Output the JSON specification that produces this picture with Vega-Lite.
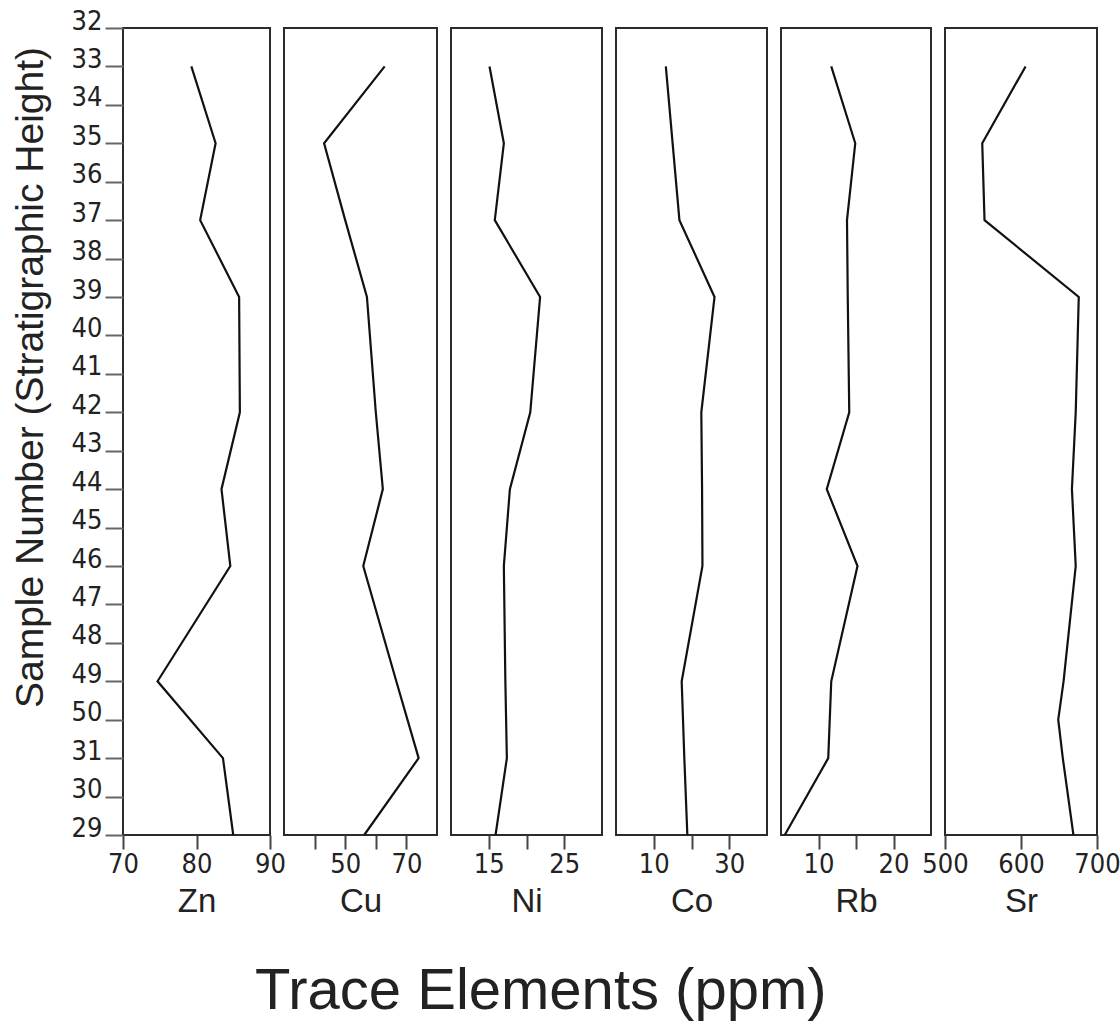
{
  "$schema": "https://vega.github.io/schema/vega-lite/v6.json",
  "background": "white",
  "padding": {"left": 10, "top": 6, "right": 10, "bottom": 6},
  "bounds": "flush",
  "data": {
    "values": [
      {"sample": 33, "Zn": 79.3, "Cu": 62.9, "Ni": 15.1, "Co": 13.2, "Rb": 11.7, "Sr": 606},
      {"sample": 35, "Zn": 82.6, "Cu": 43.1, "Ni": 17.0, "Co": 15.0, "Rb": 14.9, "Sr": 549},
      {"sample": 37, "Zn": 80.5, "Cu": 50.0, "Ni": 15.8, "Co": 16.8, "Rb": 13.8, "Sr": 552},
      {"sample": 39, "Zn": 85.8, "Cu": 57.1, "Ni": 21.8, "Co": 26.1, "Rb": 13.9, "Sr": 676},
      {"sample": 42, "Zn": 85.9, "Cu": 60.0, "Ni": 20.5, "Co": 22.6, "Rb": 14.1, "Sr": 672},
      {"sample": 44, "Zn": 83.4, "Cu": 62.3, "Ni": 17.8, "Co": 22.8, "Rb": 11.1, "Sr": 667},
      {"sample": 46, "Zn": 84.6, "Cu": 55.9, "Ni": 17.0, "Co": 22.9, "Rb": 15.2, "Sr": 672},
      {"sample": 49, "Zn": 74.7, "Cu": 66.7, "Ni": 17.2, "Co": 17.4, "Rb": 11.7, "Sr": 656},
      {"sample": 50, "Zn": null, "Cu": null, "Ni": null, "Co": null, "Rb": null, "Sr": 649},
      {"sample": 31, "Zn": 83.6, "Cu": 74.0, "Ni": 17.4, "Co": 18.1, "Rb": 11.3, "Sr": 655},
      {"sample": 29, "Zn": 85.0, "Cu": 56.2, "Ni": 15.9, "Co": 18.9, "Rb": 5.5, "Sr": 669}
    ]
  },
  "title": {
    "text": "Trace Elements (ppm)",
    "orient": "bottom",
    "anchor": "start",
    "frame": "group",
    "dx": 132,
    "offset": 44,
    "font": "Liberation Sans",
    "fontSize": 58,
    "fontWeight": "normal",
    "color": "#222"
  },
  "spacing": 14,
  "hconcat": [
    {
      "width": 147, "height": 807,
      "transform": [{"filter": {"field": "Zn", "valid": true}}],
      "mark": {"type": "line", "invalid": "filter"},
      "encoding": {
        "y": {
          "field": "sample", "type": "ordinal",
          "scale": {"type": "point", "padding": 0, "domain": [32,33,34,35,36,37,38,39,40,41,42,43,44,45,46,47,48,49,50,31,30,29]},
          "axis": {
            "title": "Sample Number (Stratigraphic Height)",
            "titleFontSize": 39, "titleX": -81, "titleY": 349, "titleAngle": -90,
            "titleAlign": "center", "titleBaseline": "alphabetic",
            "tickSize": 18, "labelPadding": 3, "labelBaseline": "alphabetic", "labelAlign": "right",
            "labelOffset": 1, "tickColor": "#666"
          }
        },
        "x": {
          "field": "Zn", "type": "quantitative",
          "scale": {"domain": [70, 90], "nice": false, "zero": false},
          "axis": {"values": [70, 80, 90], "title": "Zn"}
        },
        "order": {"value": null}
      }
    },
    {
      "width": 153, "height": 807,
      "transform": [{"filter": {"field": "Cu", "valid": true}}],
      "mark": {"type": "line", "invalid": "filter"},
      "encoding": {
        "y": {"field": "sample", "type": "ordinal", "scale": {"type": "point", "padding": 0, "domain": [32,33,34,35,36,37,38,39,40,41,42,43,44,45,46,47,48,49,50,31,30,29]}, "axis": null},
        "x": {
          "field": "Cu", "type": "quantitative",
          "scale": {"domain": [30, 80], "nice": false, "zero": false},
          "axis": {"values": [40, 50, 60, 70], "labelExpr": "datum.value == 50 || datum.value == 70 ? datum.label : ''", "title": "Cu"}
        },
        "order": {"value": null}
      }
    },
    {
      "width": 151, "height": 807,
      "transform": [{"filter": {"field": "Ni", "valid": true}}],
      "mark": {"type": "line", "invalid": "filter"},
      "encoding": {
        "y": {"field": "sample", "type": "ordinal", "scale": {"type": "point", "padding": 0, "domain": [32,33,34,35,36,37,38,39,40,41,42,43,44,45,46,47,48,49,50,31,30,29]}, "axis": null},
        "x": {
          "field": "Ni", "type": "quantitative",
          "scale": {"domain": [10, 30], "nice": false, "zero": false},
          "axis": {"values": [15, 20, 25], "labelExpr": "datum.value == 20 ? '' : datum.label", "title": "Ni"}
        },
        "order": {"value": null}
      }
    },
    {
      "width": 151, "height": 807,
      "transform": [{"filter": {"field": "Co", "valid": true}}],
      "mark": {"type": "line", "invalid": "filter"},
      "encoding": {
        "y": {"field": "sample", "type": "ordinal", "scale": {"type": "point", "padding": 0, "domain": [32,33,34,35,36,37,38,39,40,41,42,43,44,45,46,47,48,49,50,31,30,29]}, "axis": null},
        "x": {
          "field": "Co", "type": "quantitative",
          "scale": {"domain": [0, 40], "nice": false, "zero": false},
          "axis": {"values": [10, 20, 30], "labelExpr": "datum.value == 20 ? '' : datum.label", "title": "Co"}
        },
        "order": {"value": null}
      }
    },
    {
      "width": 150, "height": 807,
      "transform": [{"filter": {"field": "Rb", "valid": true}}],
      "mark": {"type": "line", "invalid": "filter"},
      "encoding": {
        "y": {"field": "sample", "type": "ordinal", "scale": {"type": "point", "padding": 0, "domain": [32,33,34,35,36,37,38,39,40,41,42,43,44,45,46,47,48,49,50,31,30,29]}, "axis": null},
        "x": {
          "field": "Rb", "type": "quantitative",
          "scale": {"domain": [5, 25], "nice": false, "zero": false},
          "axis": {"values": [10, 15, 20], "labelExpr": "datum.value == 15 ? '' : datum.label", "title": "Rb"}
        },
        "order": {"value": null}
      }
    },
    {
      "width": 152, "height": 807,
      "transform": [{"filter": {"field": "Sr", "valid": true}}],
      "mark": {"type": "line", "invalid": "filter"},
      "encoding": {
        "y": {"field": "sample", "type": "ordinal", "scale": {"type": "point", "padding": 0, "domain": [32,33,34,35,36,37,38,39,40,41,42,43,44,45,46,47,48,49,50,31,30,29]}, "axis": null},
        "x": {
          "field": "Sr", "type": "quantitative",
          "scale": {"domain": [500, 700], "nice": false, "zero": false},
          "axis": {"values": [500, 600, 700], "title": "Sr"}
        },
        "order": {"value": null}
      }
    }
  ],
  "resolve": {"scale": {"x": "independent", "y": "shared"}},
  "config": {
    "view": {"stroke": "#2b2b2b", "strokeWidth": 2},
    "line": {"color": "#111", "strokeWidth": 2.2},
    "axis": {
      "grid": false,
      "domain": false,
      "labelFont": "DejaVu Sans Condensed",
      "labelFontSize": 27,
      "labelColor": "#222",
      "titleFont": "Liberation Sans",
      "titleFontWeight": "normal",
      "titleColor": "#222",
      "tickColor": "#444",
      "tickWidth": 2
    },
    "axisX": {
      "tickSize": 14,
      "labelPadding": 2,
      "labelFlush": false,
      "labelOverlap": false,
      "titleFontSize": 33,
      "titlePadding": 8
    }
  }
}
